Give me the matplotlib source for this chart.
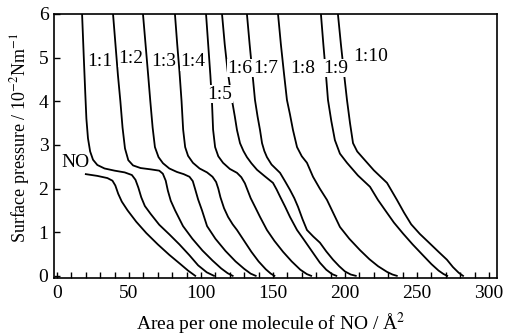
import matplotlib
matplotlib.use("Agg")
import matplotlib.pyplot as plt
from matplotlib.ticker import MultipleLocator

plt.rcParams['font.family'] = ['Liberation Serif', 'DejaVu Serif']
plt.rcParams['mathtext.fontset'] = 'stix'

# ---- data ----
no_x = [20, 28, 35, 38.5, 40.5, 42.5, 45, 49, 55, 62, 70, 78, 86, 91, 96]
no_y = [2.33, 2.29, 2.24, 2.18, 2.07, 1.88, 1.70, 1.50, 1.24, 0.98, 0.72, 0.48, 0.26, 0.12, 0.0]

r1_x = [17.4, 18.6, 19.6, 20.4, 21.5, 23.0, 25.0, 28.0, 33.0, 40.0, 47.0, 52.0, 54.5, 56.5, 58.5, 61.0, 65.0, 71.0, 78.0, 85.0, 92.0, 98.0, 104.0, 109.0]
r1_y = [6.0, 5.0, 4.2, 3.6, 3.15, 2.85, 2.66, 2.54, 2.46, 2.41, 2.37, 2.31, 2.20, 2.02, 1.80, 1.60, 1.42, 1.17, 0.95, 0.72, 0.47, 0.24, 0.08, 0.0]

r2_x = [38.9, 40.6, 42.3, 44.0, 45.5, 47.2, 49.5, 52.8, 58.0, 65.0, 71.0, 73.5, 75.5, 77.0, 79.0, 82.0, 87.5, 94.0, 101.0, 108.0, 114.0, 118.5, 122.0]
r2_y = [6.0, 5.3, 4.6, 4.0, 3.4, 2.92, 2.65, 2.53, 2.47, 2.44, 2.41, 2.34, 2.18, 1.95, 1.72, 1.50, 1.14, 0.85, 0.58, 0.35, 0.17, 0.06, 0.0]

r3_x = [59.7, 61.5, 63.3, 64.8, 66.4, 68.0, 70.5, 73.6, 78.0, 83.3, 88.0, 92.0, 94.3, 96.0, 98.0, 100.7, 104.2, 110.0, 117.0, 124.0, 130.0, 134.5, 138.0]
r3_y = [6.0, 5.3, 4.6, 4.0, 3.4, 2.95, 2.72, 2.58, 2.46, 2.38, 2.33, 2.27, 2.17, 1.98, 1.75, 1.50, 1.14, 0.85, 0.57, 0.33, 0.16, 0.05, 0.0]

r4_x = [81.9, 83.5, 85.0, 86.5, 87.6, 89.0, 91.0, 94.4, 99.0, 104.2, 108.0, 110.5, 112.0, 113.5, 116.0, 118.8, 122.0, 125.0, 130.0, 135.0, 140.0, 145.0, 148.5, 151.0]
r4_y = [6.0, 5.3, 4.7, 4.0, 3.35, 2.95, 2.75, 2.59, 2.46, 2.37, 2.27, 2.15, 2.00, 1.80, 1.55, 1.35, 1.18, 1.05, 0.80, 0.55, 0.33, 0.15, 0.05, 0.0]

r5_x = [103.5, 105.0, 106.5, 107.6, 108.4, 109.8, 112.0, 115.3, 120.0, 125.0, 128.0, 130.5, 132.5, 134.5, 138.0, 141.0, 145.8, 151.0, 157.0, 163.0, 169.0, 173.5, 176.5]
r5_y = [6.0, 5.3, 4.6, 4.0, 3.35, 2.95, 2.74, 2.59, 2.45, 2.36, 2.26, 2.12, 1.95, 1.78, 1.55, 1.35, 1.05, 0.80, 0.55, 0.33, 0.14, 0.04, 0.0]

r6_x = [114.6, 116.5, 118.5, 121.5, 123.5, 125.0, 127.1, 129.5, 131.9, 135.0, 138.9, 144.0, 150.0, 152.5, 155.0, 158.5, 161.8, 166.7, 171.0, 175.0, 179.0, 182.6, 187.0, 191.0, 194.0]
r6_y = [6.0, 5.3, 4.7, 4.03, 3.65, 3.34, 3.04, 2.86, 2.72, 2.58, 2.43, 2.29, 2.13, 1.98, 1.81, 1.58, 1.35, 1.05, 0.85, 0.66, 0.47, 0.30, 0.14, 0.04, 0.0]

r7_x = [131.9, 133.8, 135.7, 137.5, 139.3, 141.0, 142.4, 144.0, 145.8, 149.0, 154.9, 158.5, 161.8, 164.8, 167.4, 170.5, 173.6, 178.0, 182.6, 187.0, 191.7, 196.0, 200.0, 204.0, 207.5]
r7_y = [6.0, 5.3, 4.65, 4.03, 3.65, 3.34, 3.04, 2.86, 2.72, 2.55, 2.36, 2.16, 1.97, 1.78, 1.58, 1.30, 1.05, 0.90, 0.76, 0.56, 0.37, 0.22, 0.10, 0.03, 0.0]

r8_x = [153.5, 155.5, 157.6, 159.7, 161.8, 163.9, 166.7, 170.0, 173.6, 177.8, 182.5, 187.5, 192.0, 196.5, 203.0, 210.4, 217.0, 223.0, 229.2, 233.0, 236.0]
r8_y = [6.0, 5.3, 4.65, 4.03, 3.7, 3.34, 2.95, 2.74, 2.59, 2.27, 2.00, 1.74, 1.43, 1.12, 0.85, 0.59, 0.38, 0.22, 0.09, 0.03, 0.0]

r9_x = [183.3, 185.0, 186.7, 188.2, 190.5, 193.0, 196.5, 201.4, 209.0, 217.4, 222.9, 228.0, 234.0, 240.3, 247.0, 254.2, 260.0, 265.0, 268.5, 271.0]
r9_y = [6.0, 5.3, 4.65, 4.03, 3.55, 3.11, 2.80, 2.59, 2.30, 2.04, 1.74, 1.50, 1.22, 0.97, 0.72, 0.47, 0.27, 0.12, 0.04, 0.0]

r10_x = [195.1, 197.2, 199.3, 201.4, 203.5, 205.6, 208.5, 212.5, 220.0, 229.2, 236.1, 241.0, 246.0, 252.0, 259.0, 265.0, 270.8, 275.0, 279.0, 282.0]
r10_y = [6.0, 5.3, 4.65, 4.03, 3.5, 3.04, 2.85, 2.70, 2.42, 2.13, 1.74, 1.45, 1.18, 0.96, 0.74, 0.55, 0.37, 0.20, 0.07, 0.0]

labels = ["NO", "1:1", "1:2", "1:3", "1:4", "1:5", "1:6", "1:7", "1:8", "1:9", "1:10"]
label_x = [12.5, 29.9, 51.4, 74.3, 94.1, 113.2, 127.1, 145.1, 170.8, 193.8, 218.0]
label_y = [2.59, 4.90, 4.99, 4.90, 4.90, 4.16, 4.76, 4.76, 4.76, 4.76, 5.03]

curves = [(no_x, no_y), (r1_x, r1_y), (r2_x, r2_y), (r3_x, r3_y), (r4_x, r4_y),
          (r5_x, r5_y), (r6_x, r6_y), (r7_x, r7_y), (r8_x, r8_y), (r9_x, r9_y),
          (r10_x, r10_y)]

fig = plt.figure(figsize=(5.12, 3.36), dpi=100)
ax = fig.add_axes([54/512, 1-278/336, 443/512, 264/336])

for cx, cy in curves:
    ax.plot(cx, cy, color='black', lw=1.3, solid_joinstyle='round', zorder=2)

for t, lx, ly in zip(labels, label_x, label_y):
    ax.text(lx, ly, t, fontsize=14, ha='center', va='center', zorder=3,
            bbox=dict(facecolor='white', edgecolor='none', pad=0.3))

ax.set_xlim(-2.1, 305.6)
ax.set_ylim(-0.05, 6.0)
ax.xaxis.set_major_locator(MultipleLocator(50))
ax.xaxis.set_minor_locator(MultipleLocator(10))
ax.yaxis.set_major_locator(MultipleLocator(1))
ax.tick_params(axis='both', which='both', direction='in', labelsize=14,
               width=1.0, colors='black')
ax.tick_params(axis='x', which='major', length=4, pad=5)
ax.tick_params(axis='x', which='minor', length=4)
ax.tick_params(axis='y', which='major', length=4, pad=4)
for s in ax.spines.values():
    s.set_linewidth(1.2)

ax.set_xlabel(r"Area per one molecule of NO / Å$^2$", fontsize=14)
ax.set_ylabel(r"Surface pressure / 10$^{-2}$Nm$^{-1}$", fontsize=13)
ax.xaxis.set_label_coords(0.488, -0.125)
ax.yaxis.set_label_coords(-0.05, 0.53)

fig.savefig("out.png", dpi=100)
